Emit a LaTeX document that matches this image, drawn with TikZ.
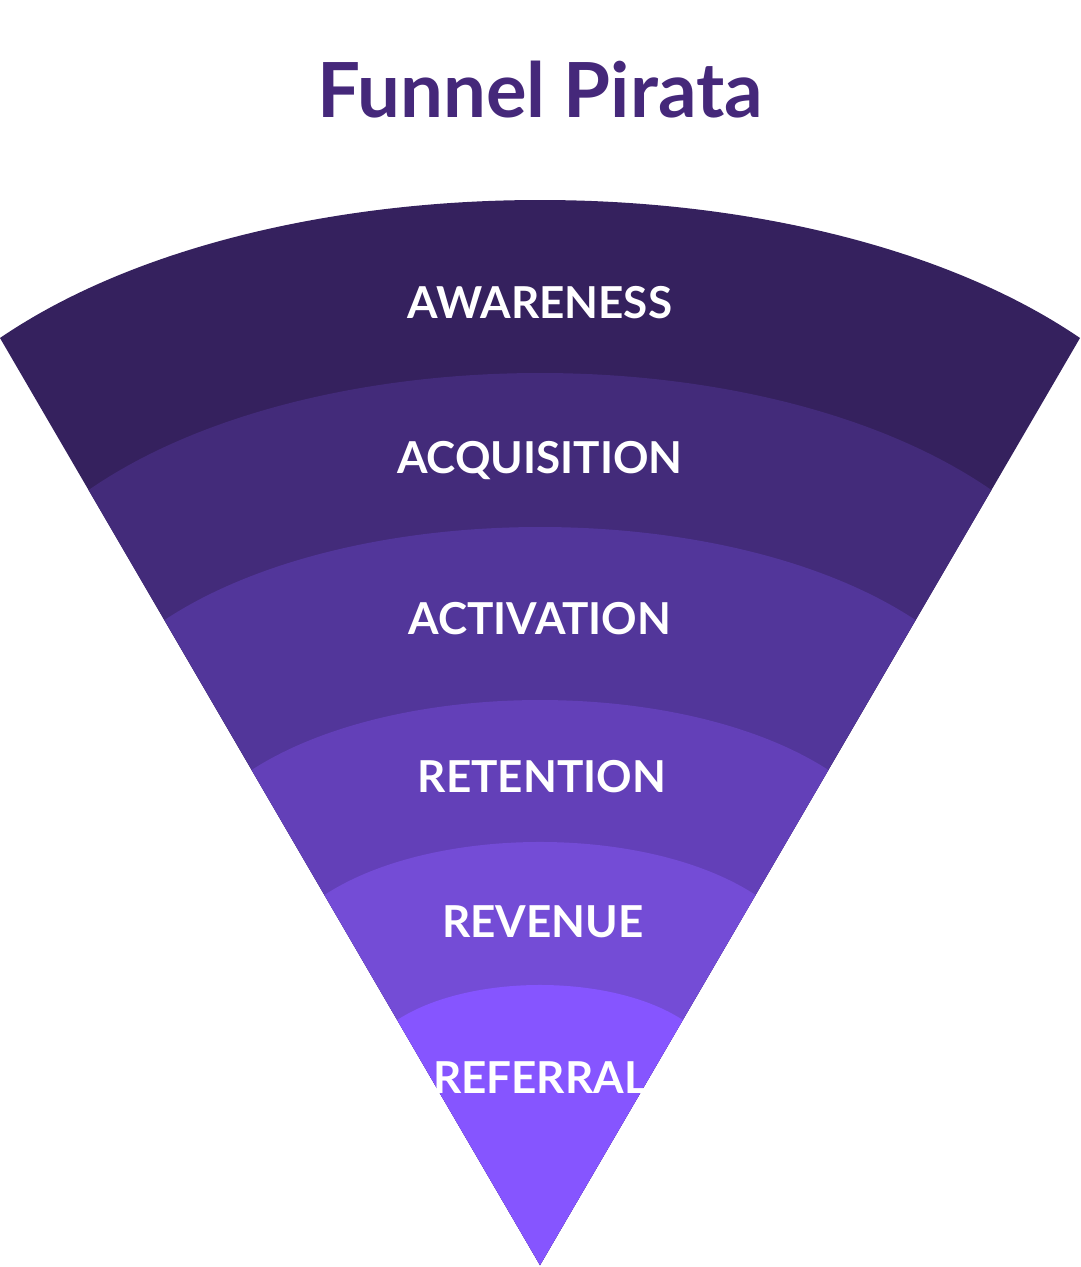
\documentclass[tikz,border=0pt]{standalone}
\usepackage{fontspec}
\setmainfont{Lato}
\definecolor{c0}{HTML}{35215E}
\definecolor{c1}{HTML}{432B7A}
\definecolor{c2}{HTML}{52369A}
\definecolor{c3}{HTML}{6340B8}
\definecolor{c4}{HTML}{744CD6}
\definecolor{c5}{HTML}{8655FF}
\definecolor{ttl}{HTML}{45287A}
\tikzset{lab/.style={text=white,font=\fontsize{44}{48}\selectfont\bfseries,anchor=center}}
\begin{document}
\begin{tikzpicture}[x=1pt,y=-1pt]
\useasboundingbox (0,0) rectangle (1080,1267);
\node[text=ttl,font=\fontsize{76}{80}\selectfont\bfseries] (title) at (540,90) {Funnel Pirata};
% bands: xl, yl, yc, a, color
\foreach \xl/\yl/\yc/\c in {0/338/154/c0, 88.6/490/334/c1, 164.5/620/496/c2, 251.6/770/676.7/c3, 324.4/895/824.3/c4, 397.2/1020/973.3/c5}{
  \pgfmathsetmacro{\a}{(540-\xl)*0.5}
  \pgfmathsetmacro{\xr}{1080-\xl}
  \fill[\c] (\xl,\yl) .. controls ({\xl+\a},\yc) and ({\xr-\a},\yc) .. (\xr,\yl) -- (540,1265) -- cycle;
}
\node[lab] (n1) at (540,303) {AWARENESS};
\node[lab] (n2) at (540,461) {ACQUISITION};
\node[lab] (n3) at (540,619) {ACTIVATION};
\node[lab] (n4) at (542,777) {RETENTION};
\node[lab] (n5) at (543,922) {REVENUE};
\node[lab] (n6) at (540,1078) {REFERRAL};
\end{tikzpicture}
\end{document}
